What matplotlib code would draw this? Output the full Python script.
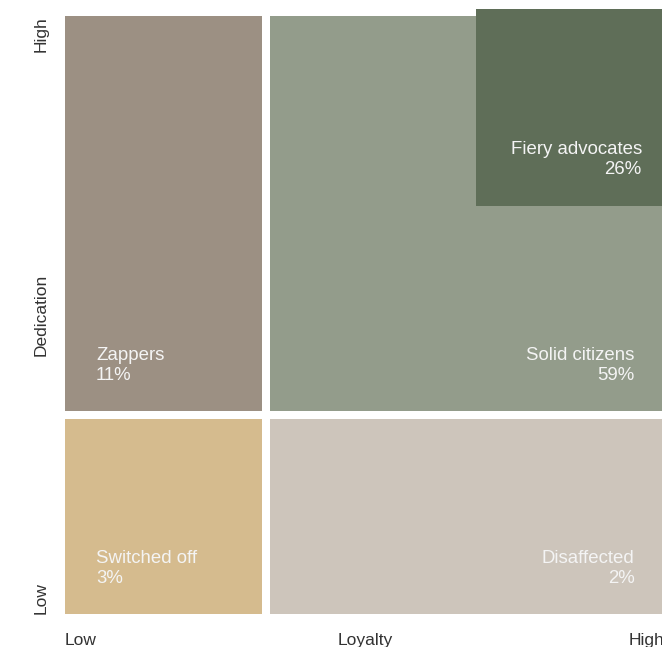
import matplotlib.pyplot as plt
from matplotlib.patches import Rectangle

plt.rcParams['font.family'] = ['Liberation Sans', 'DejaVu Sans']

# segments: name, share, column span, row span, colour
names = ['Zappers', 'Solid citizens', 'Switched off', 'Disaffected', 'Fiery advocates']
shares = [11, 59, 3, 2, 26]
colors = ['#9c9083', '#939c8b', '#d5bb8e', '#cdc5bb', '#5f6e58']

x_edges = [0, 1.015, 3]
y_edges = [0, 1.005, 3]
cells = [(0, 1), (1, 1), (0, 0), (1, 0)]  # (col, row)
gap = 0.02

x_labels = ['Low', 'Loyalty', 'High']
y_labels = ['Low', 'Dedication', 'High']

fig = plt.figure(figsize=(6.62, 6.47), dpi=100)
W, H = 662, 647
ax = fig.add_axes([61 / W, (H - 618) / H, 605 / W, 606 / H])
ax.set_xlim(0, 3)
ax.set_ylim(0, 3)
ax.axis('off')

txt = dict(color='#f4f4f4', fontsize=13.4, linespacing=1.2)

for i, (c, r) in enumerate(cells):
    x0, x1 = x_edges[c] + gap, x_edges[c + 1] - gap
    y0, y1 = y_edges[r] + gap, y_edges[r + 1] - gap
    ax.add_patch(Rectangle((x0, y0), x1 - x0, y1 - y0, color=colors[i], lw=0))
    label = f'{names[i]}\n{shares[i]}%'
    if c == 0:
        ax.text(x0 + 0.153, y0 + 0.135, label, ha='left', va='bottom', **txt)
    else:
        ax.text(x1 - 0.135, y0 + 0.135, label, ha='right', va='bottom',
                multialignment='right', **txt)

# top segment inside the solid citizens block
fx0, fx1, fy0, fy1 = 2.058, 2.98, 2.04, 3.015
ax.add_patch(Rectangle((fx0, fy0), fx1 - fx0, fy1 - fy0, color=colors[4], lw=0,
                       clip_on=False))
ax.text(fx1 - 0.1, fy0 + 0.14, f'{names[4]}\n{shares[4]}%', ha='right', va='bottom',
        multialignment='right', **txt)

lab = dict(color='#333333', fontsize=12.5)
fig.text(65 / W, 1 - 645 / H, x_labels[0], ha='left', va='baseline', **lab)
fig.text(365 / W, 1 - 645 / H, x_labels[1], ha='center', va='baseline', **lab)
fig.text(629 / W, 1 - 645 / H, x_labels[2], ha='left', va='baseline', **lab)

fig.text(49 / W, 1 - 614 / H, y_labels[0], rotation=90, ha='right', va='bottom', **lab)
fig.text(49 / W, 1 - 315 / H, y_labels[1], rotation=90, ha='right', va='center', **lab)
fig.text(49 / W, 1 - 16 / H, y_labels[2], rotation=90, ha='right', va='top', **lab)

fig.savefig('out.png', dpi=100)
